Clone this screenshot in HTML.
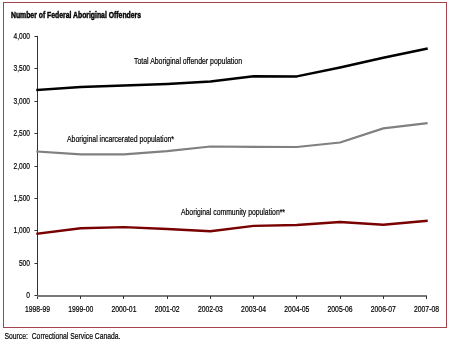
<!DOCTYPE html>
<html><head><meta charset="utf-8"><style>
html,body{margin:0;padding:0;background:#fff;width:450px;height:342px;overflow:hidden}
svg{display:block;will-change:transform}
text{font-family:"Liberation Sans",sans-serif;fill:#000;stroke:#000;stroke-width:0.2px}
</style></head><body>
<svg width="450" height="342" viewBox="0 0 450 342">
<rect x="3.5" y="2.5" width="443" height="325" fill="#fff" stroke="#a3434e" stroke-width="1"/>
<text x="11" y="18.2" font-size="9" font-weight="bold" style="stroke-width:0.45px" textLength="130" lengthAdjust="spacingAndGlyphs">Number of Federal Aboriginal Offenders</text>
<g stroke="#333" stroke-width="1" fill="none">
<line x1="37.5" y1="36" x2="37.5" y2="299"/>
<line x1="37" y1="296" x2="427" y2="296" stroke="#7a7a7a" stroke-width="2"/>
<line x1="34.5" y1="36.50" x2="37.5" y2="36.50"/><line x1="34.5" y1="68.50" x2="37.5" y2="68.50"/><line x1="34.5" y1="101.50" x2="37.5" y2="101.50"/><line x1="34.5" y1="133.50" x2="37.5" y2="133.50"/><line x1="34.5" y1="166.50" x2="37.5" y2="166.50"/><line x1="34.5" y1="198.50" x2="37.5" y2="198.50"/><line x1="34.5" y1="230.50" x2="37.5" y2="230.50"/><line x1="34.5" y1="263.50" x2="37.5" y2="263.50"/><line x1="34.5" y1="295.50" x2="37.5" y2="295.50"/><line x1="80.50" y1="296" x2="80.50" y2="299"/><line x1="123.50" y1="296" x2="123.50" y2="299"/><line x1="167.50" y1="296" x2="167.50" y2="299"/><line x1="210.50" y1="296" x2="210.50" y2="299"/><line x1="253.50" y1="296" x2="253.50" y2="299"/><line x1="296.50" y1="296" x2="296.50" y2="299"/><line x1="340.50" y1="296" x2="340.50" y2="299"/><line x1="383.50" y1="296" x2="383.50" y2="299"/><line x1="426.50" y1="296" x2="426.50" y2="299"/>
</g>
<g font-size="8.4"><text x="13.50" y="39.10" textLength="16.50" lengthAdjust="spacingAndGlyphs">4,000</text><text x="13.50" y="71.47" textLength="16.50" lengthAdjust="spacingAndGlyphs">3,500</text><text x="13.50" y="103.85" textLength="16.50" lengthAdjust="spacingAndGlyphs">3,000</text><text x="13.50" y="136.22" textLength="16.50" lengthAdjust="spacingAndGlyphs">2,500</text><text x="13.50" y="168.60" textLength="16.50" lengthAdjust="spacingAndGlyphs">2,000</text><text x="13.50" y="200.97" textLength="16.50" lengthAdjust="spacingAndGlyphs">1,500</text><text x="13.50" y="233.35" textLength="16.50" lengthAdjust="spacingAndGlyphs">1,000</text><text x="18.90" y="265.73" textLength="11.10" lengthAdjust="spacingAndGlyphs">500</text><text x="26.30" y="298.10" textLength="3.70" lengthAdjust="spacingAndGlyphs">0</text></g>
<g font-size="8.4"><text x="37.50" y="312" text-anchor="middle" textLength="25" lengthAdjust="spacingAndGlyphs">1998-99</text><text x="80.72" y="312" text-anchor="middle" textLength="25" lengthAdjust="spacingAndGlyphs">1999-00</text><text x="123.94" y="312" text-anchor="middle" textLength="25" lengthAdjust="spacingAndGlyphs">2000-01</text><text x="167.17" y="312" text-anchor="middle" textLength="25" lengthAdjust="spacingAndGlyphs">2001-02</text><text x="210.39" y="312" text-anchor="middle" textLength="25" lengthAdjust="spacingAndGlyphs">2002-03</text><text x="253.61" y="312" text-anchor="middle" textLength="25" lengthAdjust="spacingAndGlyphs">2003-04</text><text x="296.83" y="312" text-anchor="middle" textLength="25" lengthAdjust="spacingAndGlyphs">2004-05</text><text x="340.06" y="312" text-anchor="middle" textLength="25" lengthAdjust="spacingAndGlyphs">2005-06</text><text x="383.28" y="312" text-anchor="middle" textLength="25" lengthAdjust="spacingAndGlyphs">2006-07</text><text x="426.50" y="312" text-anchor="middle" textLength="25" lengthAdjust="spacingAndGlyphs">2007-08</text></g>
<path d="M37.50,89.90 L80.72,87.00 L123.94,85.60 L167.17,84.00 L210.39,81.50 L253.61,76.30 L296.83,76.40 L340.06,67.50 L383.28,57.70 L426.50,48.80" fill="none" stroke="#000" stroke-width="2.5" stroke-linejoin="round" stroke-linecap="square"/>
<path d="M37.50,151.50 L80.72,154.40 L123.94,154.30 L167.17,151.20 L210.39,146.50 L253.61,146.80 L296.83,147.00 L340.06,142.50 L383.28,128.40 L426.50,123.20" fill="none" stroke="#808080" stroke-width="2.2" stroke-linejoin="round" stroke-linecap="square"/>
<path d="M37.50,233.70 L80.72,228.20 L123.94,227.10 L167.17,229.00 L210.39,231.30 L253.61,225.90 L296.83,225.00 L340.06,222.00 L383.28,224.70 L426.50,220.80" fill="none" stroke="#780000" stroke-width="2.4" stroke-linejoin="round" stroke-linecap="square"/>
<g font-size="8.8">
<text x="134" y="63.6" textLength="108" lengthAdjust="spacingAndGlyphs">Total Aboriginal offender population</text>
<text x="67" y="141.9" textLength="107" lengthAdjust="spacingAndGlyphs">Aboriginal incarcerated population*</text>
<text x="181" y="215.3" textLength="104" lengthAdjust="spacingAndGlyphs">Aboriginal community population**</text>
</g>
<text x="4.5" y="338.7" font-size="8.3" textLength="116" lengthAdjust="spacingAndGlyphs">Source:&#160; Correctional Service Canada.</text>
</svg>
</body></html>
